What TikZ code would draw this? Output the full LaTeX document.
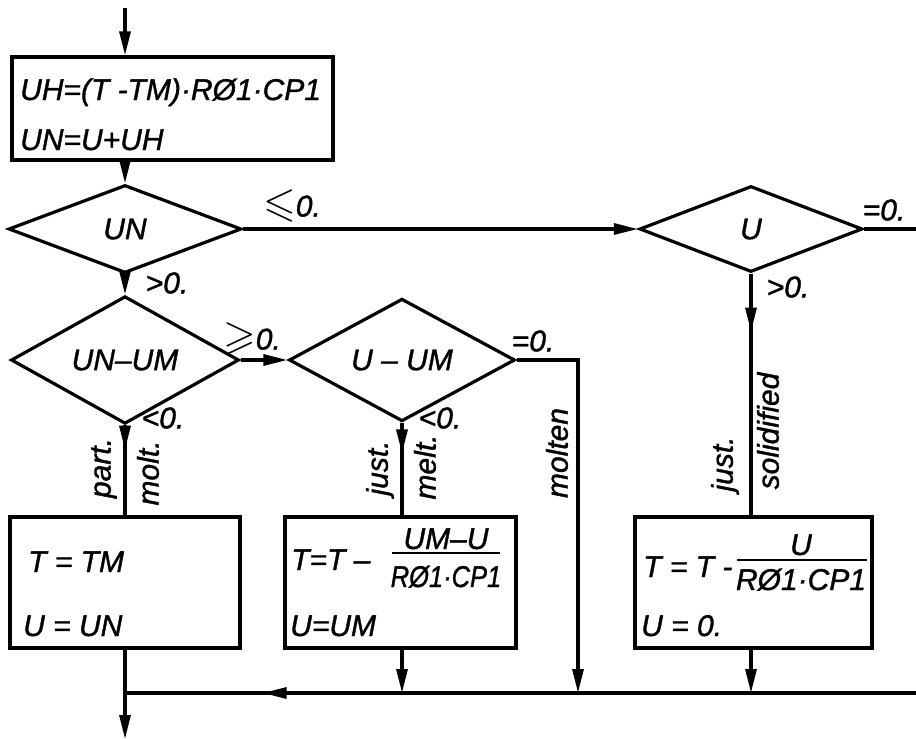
\documentclass[tikz,border=0pt]{standalone}
\usepackage{fontspec}
\usepackage{amssymb}
\usepackage{graphicx}
\setmainfont{Liberation Sans}[ItalicFeatures={FakeBold=1.2}]
\usetikzlibrary{arrows.meta,shapes.geometric,decorations.markings}
\begin{document}
\begin{tikzpicture}[x=1pt,y=-1pt,
  every node/.style={font=\fontsize{30}{36}\selectfont\itshape, inner sep=0pt},
  ln/.style={line width=3.2pt},
  tip/.style={-{Triangle[length=24pt,width=11pt]}},
  box/.style={draw, line width=3.2pt, rectangle, minimum width=#1, minimum height=131pt},
  dia/.style={draw, diamond, line width=3.2pt, inner sep=0pt},
  midtip/.style={postaction={decorate}, decoration={markings, mark=at position #1 with {\arrow{Triangle[length=24pt,width=11pt]}}}},
  rot/.style={rotate=90}]
\useasboundingbox (0,0) rectangle (916,739);

% top box
\coordinate (start) at (125,8);
\node[box=321pt, minimum height=103pt] (b0) at (172.5,108.5) {};
\node[anchor=base west] (t01) at (20,100) {UH=(T -TM)·RØ1·CP1};
\node[anchor=base west] (t02) at (20,150) {UN=U+UH};

% diamonds
\node[dia, minimum width=233pt, minimum height=88pt] (d1) at (125,229) {UN};
\node[dia, minimum width=223pt, minimum height=86pt] (d2) at (751,229) {U};
\node[dia, minimum width=228pt, minimum height=88pt] (d3) at (125,360) {UN–UM};
\node[dia, minimum width=226pt, minimum height=86pt] (d4) at (402,360) {U – UM};

% boxes
\node[box=230pt] (b1) at (125,582.5) {};
\node[box=231pt] (b2) at (400.5,582.5) {};
\node[box=237pt] (b3) at (753.5,582.5) {};

% box texts
\node[anchor=base west] (t11) at (28,572) {T = TM};
\node[anchor=base west] (t12) at (23,636) {U = UN};

\node[anchor=base west] (t21) at (291,570) {T=T –};
\node[anchor=base] (n2) at (446,549) {UM–U};
\node[anchor=base] (dn2) at (446,587) {\scalebox{0.85}[1]{RØ1·CP1}};
\draw[line width=2.4pt] (392,553) -- (500,553);
\node[anchor=base west] (t22) at (290,636) {U=UM};

\node[anchor=base west] (t31) at (643,577) {T = T -};
\node[anchor=base] (n3) at (801,555) {U};
\node[anchor=base] (dn3) at (801,590) {RØ1·CP1};
\draw[line width=2.4pt] (737,560) -- (867,560);
\node[anchor=base west] (t32) at (641,636) {U = 0.};

% coordinates
\coordinate (rightU) at (916,229);
\coordinate (mcorner) at (578,360);
\coordinate (busR) at (916,693);
\coordinate (busL) at (125,693);
\coordinate (end) at (125,739);

% connectors
\draw[ln,tip] (start) -- (start |- b0.north);
\draw[ln,tip] (start |- b0.south) -- (d1.north);
\draw[ln,tip] (d1.east) -- (d2.west);
\draw[ln] (d2.east) -- (rightU);
\draw[ln,tip] (d1.south) -- (d3.north);
\draw[ln,tip] (d3.east) -- (d4.west);
\draw[ln, midtip=0.27] (d3.south) -- (d3.south |- b1.north);
\draw[ln, midtip=0.33] (d4.south) -- (d4.south |- b2.north);
\draw[ln, midtip=0.24] (d2.south) -- (d2.south |- b3.north);
\draw[ln,tip] (d4.east) -- (mcorner) -- (mcorner |- busR);
\draw[ln, midtip=0.826] (busR) -- (busL);
\draw[ln,tip] (d4.south |- b2.south) -- (d4.south |- busR);
\draw[ln,tip] (d2.south |- b3.south) -- (d2.south |- busR);
\draw[ln,tip] (b1.south) -- (end);

% labels
\node (l1) at (292,206) {\scalebox{1.4}{$\leqslant$}0.};
\node (l2) at (167,283) {>0.};
\node (l3) at (252,339) {\scalebox{1.4}{$\geqslant$}0.};
\node (l4) at (163,418) {<0.};
\node (l5) at (533,341) {=0.};
\node (l6) at (884,210) {=0.};
\node (l7) at (440,418) {<0.};
\node (l8) at (788,287) {>0.};
\node[rot] (r1) at (104,468) {part.};
\node[rot] (r2) at (148,473) {molt.};
\node[rot] (r3) at (380,468) {just.};
\node[rot] (r4) at (425,467) {melt.};
\node[rot] (r5) at (557,453) {molten};
\node[rot] (r6) at (725,464) {just.};
\node[rot] (r7) at (768,431) {solidified};
\end{tikzpicture}
\end{document}
